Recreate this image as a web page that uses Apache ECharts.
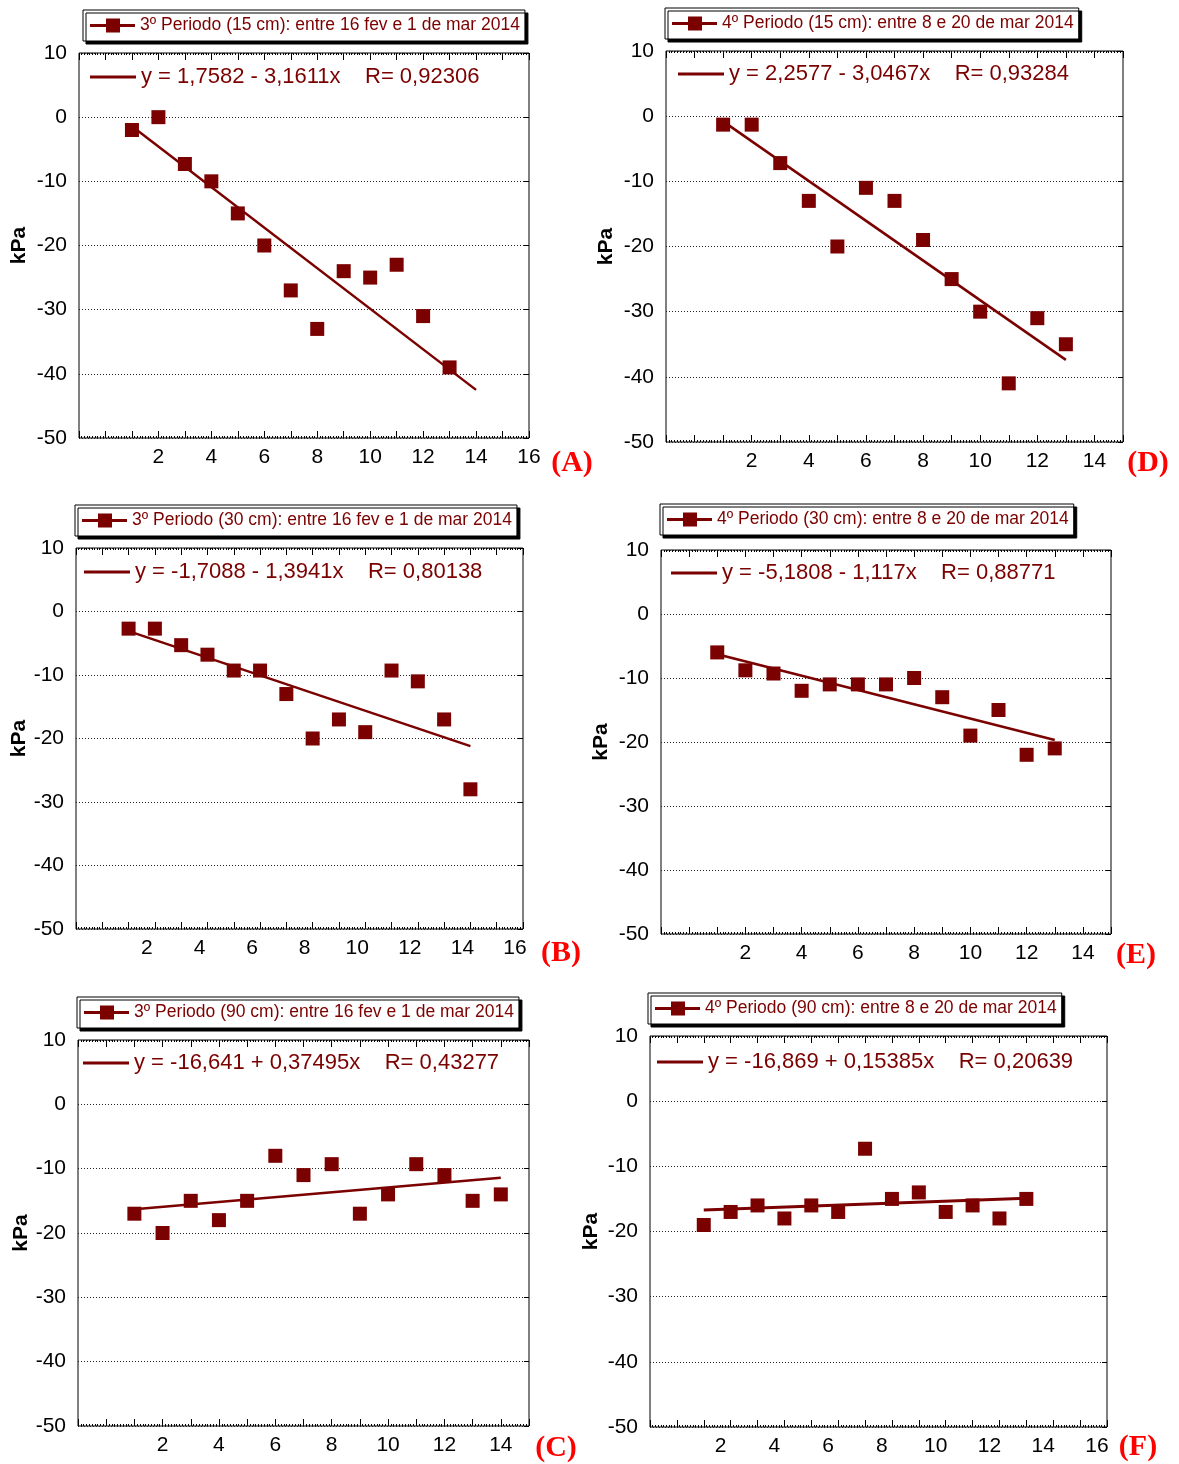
<!DOCTYPE html>
<html><head><meta charset="utf-8">
<script src="https://cdn.jsdelivr.net/npm/echarts@6/dist/echarts.min.js"></script>
<style>html,body{margin:0;padding:0;background:#fff}#c{width:1179px;height:1464px}</style>
</head><body><div id="c"></div>
<script>
// ---- data ----
const daysA = [1,2,3,4,5,6,7,8,9,10,11,12,13];
const kpaA  = [-2, 0, -7.3, -10, -15, -20, -27, -33, -24, -25, -23, -31, -39];
const fitA  = [[1, -1.4], [14, -42.5]];

const daysB = [1,2,3,4,5,6,7,8,9,10,11,12,13,14];
const kpaB  = [-2.7, -2.7, -5.3, -6.8, -9.3, -9.3, -13, -20, -17, -19, -9.3, -11, -17, -28];
const fitB  = [[1, -3.1], [14, -21.2]];

const daysC = [1,2,3,4,5,6,7,8,9,10,11,12,13,14];
const kpaC  = [-17, -20, -15, -18, -15, -8, -11, -9.3, -17, -14, -9.3, -11, -15, -14];
const fitC  = [[1, -16.3], [14, -11.4]];

const daysD = [1,2,3,4,5,6,7,8,9,10,11,12,13];
const kpaD  = [-1.3, -1.3, -7.2, -13, -20, -11, -13, -19, -25, -30, -41, -31, -35];
const fitD  = [[1, -0.8], [13, -37.4]];

const daysE = [1,2,3,4,5,6,7,8,9,10,11,12,13];
const kpaE  = [-6, -8.8, -9.3, -12, -11, -11, -11, -10, -13, -19, -15, -22, -21];
const fitE  = [[1, -6.3], [13, -19.7]];

const daysF = [1,2,3,4,5,6,7,8,9,10,11,12,13];
const kpaF  = [-19, -17, -16, -18, -16, -17, -7.3, -15, -14, -17, -16, -18, -15];
const fitF  = [[1, -16.7], [13, -14.9]];

const seriesNames = [
  '3º Periodo (15 cm): entre 16 fev e 1 de mar 2014',
  '3º Periodo (30 cm): entre 16 fev e 1 de mar 2014',
  '3º Periodo (90 cm): entre 16 fev e 1 de mar 2014',
  '4º Periodo (15 cm): entre 8 e 20 de mar 2014',
  '4º Periodo (30 cm): entre 8 e 20 de mar 2014',
  '4º Periodo (90 cm): entre 8 e 20 de mar 2014'
];
const SP = '\u00a0\u00a0\u00a0\u00a0';
const equations = [
  'y = 1,7582 - 3,1611x' + SP + 'R= 0,92306',
  'y = -1,7088 - 1,3941x' + SP + 'R= 0,80138',
  'y = -16,641 + 0,37495x' + SP + 'R= 0,43277',
  'y = 2,2577 - 3,0467x' + SP + 'R= 0,93284',
  'y = -5,1808 - 1,117x' + SP + 'R= 0,88771',
  'y = -16,869 + 0,15385x' + SP + 'R= 0,20639'
];
const letters = ['(A)','(B)','(C)','(D)','(E)','(F)'];
const yTicks = {min: -50, max: 10, step: 10};
const xMaxes = [16, 16, 15, 15, 15, 16];

// ---- layout (positions/styles) ----
const layout = [
  {days:daysA, kpa:kpaA, fit:fitA, grid:[79,53,450,385],  leg:[83,10],  eq:[90,77],   gap:49, let:[572,463], shift:0,  lw:2.5},
  {days:daysB, kpa:kpaB, fit:fitB, grid:[76,548,447,381], leg:[75,505], eq:[84,572],  gap:46, let:[561,953], shift:16, lw:2.5},
  {days:daysC, kpa:kpaC, fit:fitC, grid:[78,1040,451,386],leg:[77,997], eq:[83,1063], gap:44, let:[556,1448],shift:0,  lw:2.5},
  {days:daysD, kpa:kpaD, fit:fitD, grid:[666,51,457,391], leg:[665,8],  eq:[678,74],  gap:49, let:[1148,463],shift:0,  lw:2.5},
  {days:daysE, kpa:kpaE, fit:fitE, grid:[661,550,450,384],leg:[660,504],eq:[671,573], gap:49, let:[1136,955],shift:0,  lw:2.5},
  {days:daysF, kpa:kpaF, fit:fitF, grid:[650,1036,457,391],leg:[648,993],eq:[657,1062],gap:48, let:[1138,1447],shift:20,lw:3}
];

const RED = '#7B0000';
const FONT = '"Liberation Sans", Arial, sans-serif';

const option = {animation:false, grid:[], xAxis:[], yAxis:[], series:[], legend:[], graphic:[]};

layout.forEach((p, i) => {
  option.grid.push({left:p.grid[0], top:p.grid[1], width:p.grid[2], height:p.grid[3],
    show:true, borderColor:'#000', borderWidth:1, backgroundColor:'#fff'});
  const xc = {type:'value', gridIndex:i, min:-1, max:xMaxes[i], interval:1,
    axisLine:{show:false, onZero:false}, splitLine:{show:false},
    axisTick:{show:true, inside:true, length:7, lineStyle:{color:'#000', width:1}},
    minorTick:{show:true, splitNumber:10, length:2, lineStyle:{color:'#000', width:1}}};
  option.xAxis.push(Object.assign({}, xc, {position:'bottom',
    axisLabel:{formatter: v => (v > 0 && v % 2 === 0) ? String(v) : '',
      fontSize:21, color:'#000', fontFamily:FONT, margin:9, padding:[0, p.shift, 0, 0]}}));
  option.xAxis.push(Object.assign({}, xc, {position:'top', axisLabel:{show:false}}));
  option.yAxis.push({type:'value', gridIndex:i, min:yTicks.min, max:yTicks.max, interval:yTicks.step,
    position:'left', axisLine:{show:false, onZero:false}, axisTick:{show:false},
    axisLabel:{fontSize:21, color:'#000', fontFamily:FONT, margin:12},
    splitLine:{show:true, lineStyle:{color:'#222', type:[1,2], width:1}},
    name:'kPa', nameLocation:'middle', nameGap:p.gap,
    nameTextStyle:{fontSize:21, fontWeight:'bold', color:'#000', fontFamily:FONT}});
  option.yAxis.push({type:'value', gridIndex:i, min:yTicks.min, max:yTicks.max, interval:yTicks.step,
    position:'right', axisLine:{show:false, onZero:false}, axisLabel:{show:false}, splitLine:{show:false},
    axisTick:{show:true, inside:true, length:5, lineStyle:{color:'#000'}}});

  option.series.push({type:'scatter', name:seriesNames[i], xAxisIndex:2*i, yAxisIndex:2*i,
    data:p.days.map((d,k)=>[d, p.kpa[k]]), symbol:'rect', symbolSize:14,
    itemStyle:{color:RED, opacity:1}, z:2, silent:true});
  option.series.push({type:'line', name:equations[i], xAxisIndex:2*i, yAxisIndex:2*i,
    data:p.fit, symbol:'none', lineStyle:{color:RED, width:p.lw}, itemStyle:{color:RED}, z:3, silent:true});

  option.legend.push({data:[seriesNames[i]], left:p.leg[0], top:p.leg[1], orient:'horizontal',
    padding:[5,5,5,7], itemWidth:45, itemHeight:14,
    icon:'path://M0,5.5h45v3h-45z M16,0h14v14h-14z',
    backgroundColor:'#fff', borderColor:'#000', borderWidth:1, borderRadius:0,
    shadowColor:'#000', shadowBlur:0, shadowOffsetX:3, shadowOffsetY:3,
    textStyle:{fontSize:17.5, color:RED, fontFamily:FONT, lineHeight:21}, selectedMode:false});
  option.legend.push({data:[equations[i]], left:p.eq[0], top:p.eq[1]-12, padding:0,
    itemWidth:46, itemHeight:3, icon:'path://M0,0h46v3h-46z',
    textStyle:{fontSize:22, color:RED, fontFamily:FONT, lineHeight:24}, selectedMode:false});

  option.graphic.push({type:'text', x:p.let[0], y:p.let[1], z:100,
    style:{text:letters[i], fill:'#FF0000', font:'bold 30px "Liberation Serif", "Times New Roman", serif',
      align:'center', verticalAlign:'middle', textAlign:'center', textVerticalAlign:'middle'}});
});

const chart = echarts.init(document.getElementById('c'), null, {renderer:'canvas'});
chart.setOption(option);
</script>
</body></html>
